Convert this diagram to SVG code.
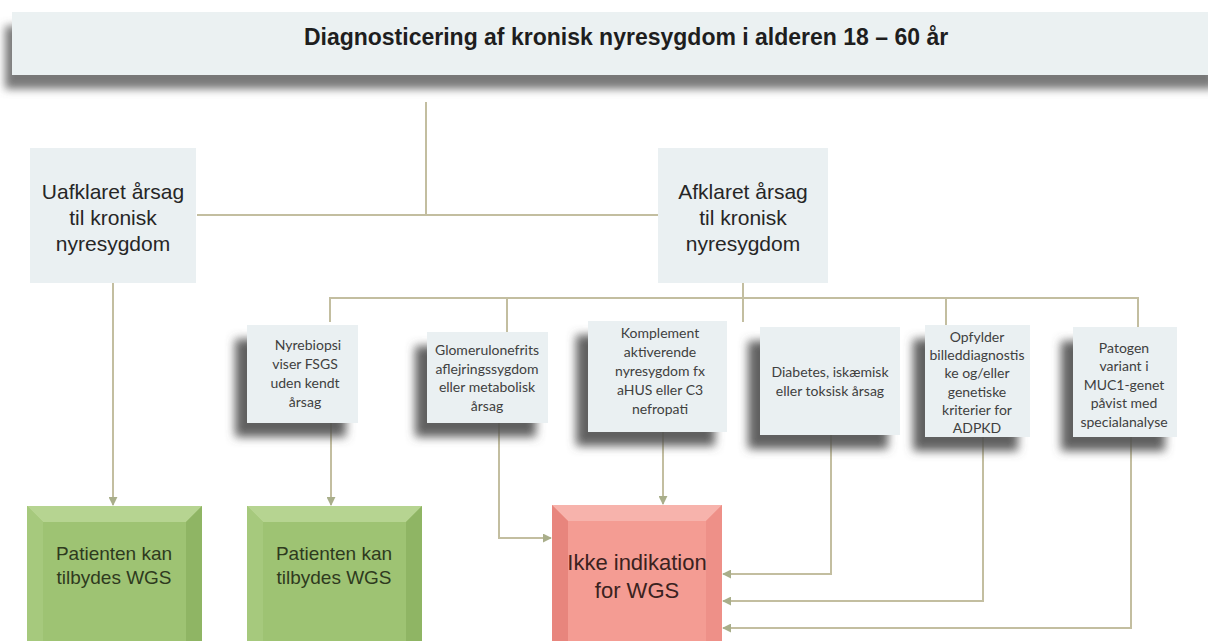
<svg xmlns="http://www.w3.org/2000/svg" width="1208" height="641" viewBox="0 0 1208 641">
<defs>
<style>
.conn{fill:none;stroke:#C3BEA0;stroke-width:2}
.lbox{fill:#EAF0F2}
.t1{font-family:"Liberation Sans",Arial,sans-serif;font-size:21px;fill:#262626;text-anchor:middle}
.t2{font-family:Lato,"Open Sans",sans-serif;font-size:14px;fill:#404040;text-anchor:middle}
.tg{font-family:"Liberation Sans",Arial,sans-serif;font-size:19px;fill:#2E3A1E;text-anchor:middle}
.tr{font-family:"Liberation Sans",Arial,sans-serif;font-size:22px;fill:#3A2220;text-anchor:middle}
</style>
<filter id="tshadow" x="-5%" y="-50%" width="110%" height="200%">
<feGaussianBlur in="SourceAlpha" stdDeviation="4"/>
<feOffset dx="-7" dy="14" result="b"/>
<feFlood flood-color="#6a6a6a" flood-opacity="0.9"/>
<feComposite in2="b" operator="in" result="s"/>
<feMerge><feMergeNode in="s"/><feMergeNode in="SourceGraphic"/></feMerge>
</filter>
<filter id="bshadow" x="-40%" y="-30%" width="160%" height="160%">
<feGaussianBlur in="SourceAlpha" stdDeviation="5"/>
<feOffset dx="-12" dy="14" result="b"/>
<feFlood flood-color="#505050" flood-opacity="0.9"/>
<feComposite in2="b" operator="in" result="s"/>
<feMerge><feMergeNode in="s"/><feMergeNode in="SourceGraphic"/></feMerge>
</filter>
<marker id="arr" viewBox="0 0 10 10" refX="9" refY="5" markerWidth="4.5" markerHeight="4.5" orient="auto" markerUnits="strokeWidth">
<path d="M0,0 L10,5 L0,10 z" fill="#A9AE8A"/>
</marker>
</defs>

<g id="title">
<rect x="12" y="12" width="1210" height="63" fill="#EBF1F2" filter="url(#tshadow)"/>
<text x="626" y="45" font-family="'Liberation Sans',Arial,sans-serif" font-size="23" font-weight="bold" fill="#1E1E1E" text-anchor="middle">Diagnosticering af kronisk nyresygdom i alderen 18 – 60 år</text>
</g>

<g id="connectors">
<path class="conn" d="M426 102 V215"/>
<path class="conn" d="M197 215 H658"/>
<path class="conn" d="M743 283 V322"/>
<path class="conn" d="M330 322 V298 H1138 V327"/>
<path class="conn" d="M507 298 V332"/>
<path class="conn" d="M946 298 V325"/>
<path class="conn" d="M113 283 V505" marker-end="url(#arr)"/>
<path class="conn" d="M331 423 V505" marker-end="url(#arr)"/>
<path class="conn" d="M499 423 V538 H551" marker-end="url(#arr)"/>
<path class="conn" d="M663 432 V504" marker-end="url(#arr)"/>
<path class="conn" d="M831 435 V574 H723" marker-end="url(#arr)"/>
<path class="conn" d="M983 437 V601 H723" marker-end="url(#arr)"/>
<path class="conn" d="M1131 437 V628 H723" marker-end="url(#arr)"/>
</g>

<g id="uafklaret">
<rect class="lbox" x="30" y="148" width="166" height="135"/>
<text class="t1" x="113" y="199">Uafklaret årsag</text>
<text class="t1" x="113" y="225">til kronisk</text>
<text class="t1" x="113" y="251">nyresygdom</text>
</g>

<g id="afklaret">
<rect class="lbox" x="658" y="148" width="170" height="135"/>
<text class="t1" x="743" y="199">Afklaret årsag</text>
<text class="t1" x="743" y="225">til kronisk</text>
<text class="t1" x="743" y="251">nyresygdom</text>
</g>

<g id="nyrebiopsi">
<rect class="lbox" x="247" y="325" width="111" height="98" filter="url(#bshadow)"/>
<text class="t2" x="308" y="350">Nyrebiopsi</text>
<text class="t2" x="305" y="369">viser FSGS</text>
<text class="t2" x="305" y="388">uden kendt</text>
<text class="t2" x="305" y="407">årsag</text>
</g>

<g id="glomerulo">
<rect class="lbox" x="427" y="332" width="121" height="91" filter="url(#bshadow)"/>
<text class="t2" x="487" y="355">Glomerulonefrits</text>
<text class="t2" x="487" y="374">aflejringssygdom</text>
<text class="t2" x="487" y="392">eller metabolisk</text>
<text class="t2" x="487" y="411">årsag</text>
</g>

<g id="komplement">
<rect class="lbox" x="588" y="321" width="139" height="111" filter="url(#bshadow)"/>
<text class="t2" x="660" y="338">Komplement</text>
<text class="t2" x="660" y="357">aktiverende</text>
<text class="t2" x="660" y="376">nyresygdom fx</text>
<text class="t2" x="660" y="395">aHUS eller C3</text>
<text class="t2" x="660" y="414">nefropati</text>
</g>

<g id="diabetes">
<rect class="lbox" x="760" y="327" width="140" height="108" filter="url(#bshadow)"/>
<text class="t2" x="830" y="377">Diabetes, iskæmisk</text>
<text class="t2" x="830" y="396">eller toksisk årsag</text>
</g>

<g id="opfylder">
<rect class="lbox" x="925" y="325" width="105" height="112" filter="url(#bshadow)"/>
<text class="t2" x="977" y="342">Opfylder</text>
<text class="t2" x="977" y="360">billeddiagnostis</text>
<text class="t2" x="977" y="378">ke og/eller</text>
<text class="t2" x="977" y="397">genetiske</text>
<text class="t2" x="977" y="415">kriterier for</text>
<text class="t2" x="977" y="433">ADPKD</text>
</g>

<g id="patogen">
<rect class="lbox" x="1073" y="327" width="104" height="110" filter="url(#bshadow)"/>
<text class="t2" x="1124" y="353">Patogen</text>
<text class="t2" x="1124" y="371">variant i</text>
<text class="t2" x="1124" y="390">MUC1-genet</text>
<text class="t2" x="1124" y="408">påvist med</text>
<text class="t2" x="1124" y="427">specialanalyse</text>
</g>

<g id="wgs1">
<rect x="27" y="506" width="175" height="140" fill="#9EC373"/>
<polygon points="27,506 202,506 186,522 43,522" fill="#B6D491"/>
<polygon points="27,506 43,522 43,646 27,646" fill="#A6C97D"/>
<polygon points="202,506 186,522 186,646 202,646" fill="#8FB564"/>
<text class="tg" x="114" y="560">Patienten kan</text>
<text class="tg" x="114" y="584">tilbydes WGS</text>
</g>

<g id="wgs2">
<rect x="247" y="506" width="175" height="140" fill="#9EC373"/>
<polygon points="247,506 422,506 406,522 263,522" fill="#B6D491"/>
<polygon points="247,506 263,522 263,646 247,646" fill="#A6C97D"/>
<polygon points="422,506 406,522 406,646 422,646" fill="#8FB564"/>
<text class="tg" x="334" y="560">Patienten kan</text>
<text class="tg" x="334" y="584">tilbydes WGS</text>
</g>

<g id="ikke">
<rect x="552" y="505" width="170" height="140" fill="#F49C93"/>
<polygon points="552,505 722,505 706,521 568,521" fill="#F7B3AC"/>
<polygon points="552,505 568,521 568,645 552,645" fill="#E8857D"/>
<polygon points="722,505 706,521 706,645 722,645" fill="#EE9088"/>
<text class="tr" x="637" y="570">Ikke indikation</text>
<text class="tr" x="637" y="598">for WGS</text>
</g>
</svg>
